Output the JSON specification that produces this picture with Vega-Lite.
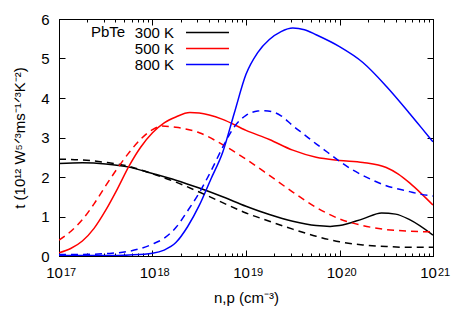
{
  "$schema": "https://vega.github.io/schema/vega-lite/v6.json",
  "width": 374,
  "height": 237,
  "autosize": "none",
  "padding": {"left": 59, "top": 19, "right": 30, "bottom": 68},
  "background": "white",
  "config": {
    "font": "Liberation Sans",
    "view": {"stroke": "#000000", "strokeWidth": 1},
    "axis": {
      "grid": false,
      "domainColor": "#000000",
      "tickColor": "#000000",
      "labelColor": "#000000",
      "titleColor": "#000000",
      "labelFont": "Liberation Sans",
      "titleFont": "Liberation Sans",
      "labelFontSize": 15,
      "titleFontSize": 15,
      "titleFontWeight": "normal"
    },
    "legend": {
      "labelFont": "Liberation Sans",
      "titleFont": "Liberation Sans",
      "labelFontSize": 15,
      "titleFontSize": 15,
      "titleFontWeight": "normal",
      "labelColor": "#000000",
      "titleColor": "#000000"
    }
  },
  "data": {
    "values": [
      {"n": 1e17, "t": 2.34, "T": "300 K", "s": "solid"},
      {"n": 1.778e17, "t": 2.36, "T": "300 K", "s": "solid"},
      {"n": 3.162e17, "t": 2.33, "T": "300 K", "s": "solid"},
      {"n": 5.623e17, "t": 2.25, "T": "300 K", "s": "solid"},
      {"n": 1e18, "t": 2.09, "T": "300 K", "s": "solid"},
      {"n": 1.778e18, "t": 1.92, "T": "300 K", "s": "solid"},
      {"n": 3.162e18, "t": 1.72, "T": "300 K", "s": "solid"},
      {"n": 5.623e18, "t": 1.5, "T": "300 K", "s": "solid"},
      {"n": 1e19, "t": 1.26, "T": "300 K", "s": "solid"},
      {"n": 1.778e19, "t": 1.05, "T": "300 K", "s": "solid"},
      {"n": 3.162e19, "t": 0.88, "T": "300 K", "s": "solid"},
      {"n": 5.623e19, "t": 0.77, "T": "300 K", "s": "solid"},
      {"n": 7.943e19, "t": 0.75, "T": "300 K", "s": "solid"},
      {"n": 1e20, "t": 0.77, "T": "300 K", "s": "solid"},
      {"n": 1.778e20, "t": 0.94, "T": "300 K", "s": "solid"},
      {"n": 2.818e20, "t": 1.09, "T": "300 K", "s": "solid"},
      {"n": 3.981e20, "t": 1.06, "T": "300 K", "s": "solid"},
      {"n": 5.623e20, "t": 0.92, "T": "300 K", "s": "solid"},
      {"n": 1e21, "t": 0.53, "T": "300 K", "s": "solid"},

      {"n": 1e17, "t": 2.45, "T": "300 K", "s": "dashed"},
      {"n": 1.778e17, "t": 2.43, "T": "300 K", "s": "dashed"},
      {"n": 3.162e17, "t": 2.37, "T": "300 K", "s": "dashed"},
      {"n": 5.623e17, "t": 2.27, "T": "300 K", "s": "dashed"},
      {"n": 1e18, "t": 2.08, "T": "300 K", "s": "dashed"},
      {"n": 1.778e18, "t": 1.87, "T": "300 K", "s": "dashed"},
      {"n": 3.162e18, "t": 1.62, "T": "300 K", "s": "dashed"},
      {"n": 5.623e18, "t": 1.35, "T": "300 K", "s": "dashed"},
      {"n": 1e19, "t": 1.09, "T": "300 K", "s": "dashed"},
      {"n": 1.778e19, "t": 0.88, "T": "300 K", "s": "dashed"},
      {"n": 3.162e19, "t": 0.68, "T": "300 K", "s": "dashed"},
      {"n": 5.623e19, "t": 0.5, "T": "300 K", "s": "dashed"},
      {"n": 1e20, "t": 0.36, "T": "300 K", "s": "dashed"},
      {"n": 1.778e20, "t": 0.28, "T": "300 K", "s": "dashed"},
      {"n": 3.162e20, "t": 0.24, "T": "300 K", "s": "dashed"},
      {"n": 5.623e20, "t": 0.22, "T": "300 K", "s": "dashed"},
      {"n": 1e21, "t": 0.22, "T": "300 K", "s": "dashed"},

      {"n": 1e17, "t": 0.08, "T": "500 K", "s": "solid"},
      {"n": 1.3335e17, "t": 0.19, "T": "500 K", "s": "solid"},
      {"n": 1.778e17, "t": 0.38, "T": "500 K", "s": "solid"},
      {"n": 2.371e17, "t": 0.7, "T": "500 K", "s": "solid"},
      {"n": 3.162e17, "t": 1.16, "T": "500 K", "s": "solid"},
      {"n": 4.217e17, "t": 1.7, "T": "500 K", "s": "solid"},
      {"n": 5.623e17, "t": 2.28, "T": "500 K", "s": "solid"},
      {"n": 7.499e17, "t": 2.76, "T": "500 K", "s": "solid"},
      {"n": 1e18, "t": 3.12, "T": "500 K", "s": "solid"},
      {"n": 1.3335e18, "t": 3.37, "T": "500 K", "s": "solid"},
      {"n": 1.778e18, "t": 3.52, "T": "500 K", "s": "solid"},
      {"n": 2.512e18, "t": 3.63, "T": "500 K", "s": "solid"},
      {"n": 3.162e18, "t": 3.62, "T": "500 K", "s": "solid"},
      {"n": 5.623e18, "t": 3.46, "T": "500 K", "s": "solid"},
      {"n": 1e19, "t": 3.18, "T": "500 K", "s": "solid"},
      {"n": 1.778e19, "t": 2.95, "T": "500 K", "s": "solid"},
      {"n": 3.162e19, "t": 2.68, "T": "500 K", "s": "solid"},
      {"n": 5.623e19, "t": 2.5, "T": "500 K", "s": "solid"},
      {"n": 1e20, "t": 2.42, "T": "500 K", "s": "solid"},
      {"n": 1.778e20, "t": 2.37, "T": "500 K", "s": "solid"},
      {"n": 3.162e20, "t": 2.24, "T": "500 K", "s": "solid"},
      {"n": 4.217e20, "t": 2.08, "T": "500 K", "s": "solid"},
      {"n": 5.623e20, "t": 1.85, "T": "500 K", "s": "solid"},
      {"n": 7.499e20, "t": 1.58, "T": "500 K", "s": "solid"},
      {"n": 1e21, "t": 1.29, "T": "500 K", "s": "solid"},

      {"n": 1e17, "t": 0.4, "T": "500 K", "s": "dashed"},
      {"n": 1.3335e17, "t": 0.62, "T": "500 K", "s": "dashed"},
      {"n": 1.778e17, "t": 0.92, "T": "500 K", "s": "dashed"},
      {"n": 2.371e17, "t": 1.32, "T": "500 K", "s": "dashed"},
      {"n": 3.162e17, "t": 1.78, "T": "500 K", "s": "dashed"},
      {"n": 4.217e17, "t": 2.22, "T": "500 K", "s": "dashed"},
      {"n": 5.623e17, "t": 2.62, "T": "500 K", "s": "dashed"},
      {"n": 7.499e17, "t": 2.96, "T": "500 K", "s": "dashed"},
      {"n": 1e18, "t": 3.2, "T": "500 K", "s": "dashed"},
      {"n": 1.259e18, "t": 3.29, "T": "500 K", "s": "dashed"},
      {"n": 1.778e18, "t": 3.26, "T": "500 K", "s": "dashed"},
      {"n": 3.162e18, "t": 3.12, "T": "500 K", "s": "dashed"},
      {"n": 5.623e18, "t": 2.82, "T": "500 K", "s": "dashed"},
      {"n": 1e19, "t": 2.45, "T": "500 K", "s": "dashed"},
      {"n": 1.778e19, "t": 2.04, "T": "500 K", "s": "dashed"},
      {"n": 3.162e19, "t": 1.62, "T": "500 K", "s": "dashed"},
      {"n": 5.623e19, "t": 1.23, "T": "500 K", "s": "dashed"},
      {"n": 1e20, "t": 0.94, "T": "500 K", "s": "dashed"},
      {"n": 1.778e20, "t": 0.77, "T": "500 K", "s": "dashed"},
      {"n": 3.162e20, "t": 0.67, "T": "500 K", "s": "dashed"},
      {"n": 5.623e20, "t": 0.63, "T": "500 K", "s": "dashed"},
      {"n": 1e21, "t": 0.61, "T": "500 K", "s": "dashed"},

      {"n": 1e17, "t": 0.01, "T": "800 K", "s": "solid"},
      {"n": 3.162e17, "t": 0.01, "T": "800 K", "s": "solid"},
      {"n": 5.623e17, "t": 0.025, "T": "800 K", "s": "solid"},
      {"n": 1e18, "t": 0.07, "T": "800 K", "s": "solid"},
      {"n": 1.3335e18, "t": 0.15, "T": "800 K", "s": "solid"},
      {"n": 1.778e18, "t": 0.34, "T": "800 K", "s": "solid"},
      {"n": 2.371e18, "t": 0.74, "T": "800 K", "s": "solid"},
      {"n": 3.162e18, "t": 1.28, "T": "800 K", "s": "solid"},
      {"n": 4.217e18, "t": 1.95, "T": "800 K", "s": "solid"},
      {"n": 5.623e18, "t": 2.62, "T": "800 K", "s": "solid"},
      {"n": 7.499e18, "t": 3.62, "T": "800 K", "s": "solid"},
      {"n": 1e19, "t": 4.6, "T": "800 K", "s": "solid"},
      {"n": 1.3335e19, "t": 5.15, "T": "800 K", "s": "solid"},
      {"n": 1.778e19, "t": 5.48, "T": "800 K", "s": "solid"},
      {"n": 2.371e19, "t": 5.68, "T": "800 K", "s": "solid"},
      {"n": 3.162e19, "t": 5.77, "T": "800 K", "s": "solid"},
      {"n": 4.217e19, "t": 5.73, "T": "800 K", "s": "solid"},
      {"n": 5.623e19, "t": 5.6, "T": "800 K", "s": "solid"},
      {"n": 1e20, "t": 5.3, "T": "800 K", "s": "solid"},
      {"n": 1.778e20, "t": 4.9, "T": "800 K", "s": "solid"},
      {"n": 3.162e20, "t": 4.3, "T": "800 K", "s": "solid"},
      {"n": 5.623e20, "t": 3.61, "T": "800 K", "s": "solid"},
      {"n": 7.499e20, "t": 3.25, "T": "800 K", "s": "solid"},
      {"n": 1e21, "t": 2.89, "T": "800 K", "s": "solid"},

      {"n": 1e17, "t": 0.04, "T": "800 K", "s": "dashed"},
      {"n": 1.778e17, "t": 0.04, "T": "800 K", "s": "dashed"},
      {"n": 3.162e17, "t": 0.06, "T": "800 K", "s": "dashed"},
      {"n": 5.623e17, "t": 0.12, "T": "800 K", "s": "dashed"},
      {"n": 1e18, "t": 0.3, "T": "800 K", "s": "dashed"},
      {"n": 1.3335e18, "t": 0.45, "T": "800 K", "s": "dashed"},
      {"n": 1.778e18, "t": 0.72, "T": "800 K", "s": "dashed"},
      {"n": 2.371e18, "t": 1.14, "T": "800 K", "s": "dashed"},
      {"n": 3.162e18, "t": 1.6, "T": "800 K", "s": "dashed"},
      {"n": 4.217e18, "t": 2.15, "T": "800 K", "s": "dashed"},
      {"n": 5.623e18, "t": 2.75, "T": "800 K", "s": "dashed"},
      {"n": 7.499e18, "t": 3.27, "T": "800 K", "s": "dashed"},
      {"n": 1e19, "t": 3.56, "T": "800 K", "s": "dashed"},
      {"n": 1.3335e19, "t": 3.67, "T": "800 K", "s": "dashed"},
      {"n": 1.585e19, "t": 3.68, "T": "800 K", "s": "dashed"},
      {"n": 2.371e19, "t": 3.55, "T": "800 K", "s": "dashed"},
      {"n": 3.162e19, "t": 3.3, "T": "800 K", "s": "dashed"},
      {"n": 4.217e19, "t": 3.07, "T": "800 K", "s": "dashed"},
      {"n": 5.623e19, "t": 2.84, "T": "800 K", "s": "dashed"},
      {"n": 7.499e19, "t": 2.62, "T": "800 K", "s": "dashed"},
      {"n": 1e20, "t": 2.4, "T": "800 K", "s": "dashed"},
      {"n": 1.3335e20, "t": 2.2, "T": "800 K", "s": "dashed"},
      {"n": 1.778e20, "t": 2.04, "T": "800 K", "s": "dashed"},
      {"n": 2.371e20, "t": 1.9, "T": "800 K", "s": "dashed"},
      {"n": 3.162e20, "t": 1.78, "T": "800 K", "s": "dashed"},
      {"n": 5.623e20, "t": 1.63, "T": "800 K", "s": "dashed"},
      {"n": 7.499e20, "t": 1.56, "T": "800 K", "s": "dashed"},
      {"n": 1e21, "t": 1.52, "T": "800 K", "s": "dashed"}
    ]
  },
  "layer": [
    {
      "transform": [{"filter": "datum.s == 'solid'"}],
      "mark": {"type": "line", "strokeWidth": 1.5, "interpolate": "monotone", "clip": true},
      "encoding": {
        "x": {
          "field": "n", "type": "quantitative",
          "scale": {"type": "log", "domain": [1e17, 1e21], "nice": false},
          "axis": {
            "orient": "bottom",
            "values": [1e17,2e17,3e17,4e17,5e17,6e17,7e17,8e17,9e17,1e18,2e18,3e18,4e18,5e18,6e18,7e18,8e18,9e18,1e19,2e19,3e19,4e19,5e19,6e19,7e19,8e19,9e19,1e20,2e20,3e20,4e20,5e20,6e20,7e20,8e20,9e20,1e21],
            "labelExpr": "datum.value == 1e17 || datum.value == 1e18 || datum.value == 1e19 || datum.value == 1e20 || datum.value == 1e21 ? '10' : ''",
            "labelOverlap": false,
            "labelFlush": false,
            "labelOffset": -5,
            "tickSize": {"condition": {"test": "datum.value == 1e17 || datum.value == 1e18 || datum.value == 1e19 || datum.value == 1e20 || datum.value == 1e21", "value": -6}, "value": -3},
            "labelPadding": 15,
            "title": "n,p (cm⁻³)",
            "titlePadding": 7
          }
        },
        "y": {
          "field": "t", "type": "quantitative",
          "scale": {"domain": [0, 6], "nice": false, "zero": false},
          "axis": {
            "orient": "left",
            "values": [0, 1, 2, 3, 4, 5, 6],
            "tickSize": -6,
            "labelPadding": 16,
            "title": "t (10¹² W⁵ᐟ³ms⁻¹ᐟ³K⁻²)",
            "titlePadding": 13
          }
        },
        "color": {
          "field": "T", "type": "nominal",
          "scale": {"domain": ["300 K", "500 K", "800 K"], "range": ["#000000", "#ff0000", "#0000ff"]},
          "legend": {
            "title": "PbTe",
            "orient": "none",
            "legendX": 32,
            "legendY": 5.5,
            "padding": 0,
            "titleOrient": "left",
            "titleAnchor": "start",
            "titlePadding": 2,
            "titleBaseline": "top",
            "labelAlign": "right",
            "labelOffset": -41.5,
            "symbolOffset": 71.5,
            "symbolType": "M-3,0H3",
            "symbolSize": 205,
            "symbolStrokeWidth": 1.5,
            "rowPadding": 0
          }
        }
      }
    },
    {
      "transform": [{"filter": "datum.s == 'dashed' && datum.T != '800 K'"}],
      "mark": {"type": "line", "strokeWidth": 1.5, "strokeDash": [7, 5], "interpolate": "monotone", "clip": true},
      "encoding": {
        "x": {
          "field": "n", "type": "quantitative",
          "scale": {"type": "log", "domain": [1e17, 1e21], "nice": false},
          "axis": {
            "orient": "top",
            "values": [1e17,2e17,3e17,4e17,5e17,6e17,7e17,8e17,9e17,1e18,2e18,3e18,4e18,5e18,6e18,7e18,8e18,9e18,1e19,2e19,3e19,4e19,5e19,6e19,7e19,8e19,9e19,1e20,2e20,3e20,4e20,5e20,6e20,7e20,8e20,9e20,1e21],
            "labels": false,
            "title": null,
            "tickSize": {"condition": {"test": "datum.value == 1e17 || datum.value == 1e18 || datum.value == 1e19 || datum.value == 1e20 || datum.value == 1e21", "value": -6}, "value": -3}
          }
        },
        "y": {
          "field": "t", "type": "quantitative",
          "scale": {"domain": [0, 6], "nice": false, "zero": false},
          "axis": {
            "orient": "right",
            "values": [0, 1, 2, 3, 4, 5, 6],
            "labels": false,
            "title": null,
            "tickSize": -6
          }
        },
        "color": {"field": "T", "type": "nominal"}
      }
    },
    {
      "transform": [{"filter": "datum.s == 'dashed' && datum.T == '800 K'"}],
      "mark": {"type": "line", "strokeWidth": 1.5, "strokeDash": [7, 5], "interpolate": "monotone", "clip": true},
      "encoding": {
        "x": {
          "field": "n", "type": "quantitative",
          "scale": {"type": "log", "domain": [1e17, 1e21], "nice": false},
          "axis": {
            "orient": "bottom",
            "values": [1e17, 1e18, 1e19, 1e20, 1e21],
            "labelExpr": "format(log(datum.value) / LN10, '.0f')",
            "labelFontSize": 11,
            "labelOffset": 10.5,
            "labelPadding": 10,
            "labelOverlap": false,
            "labelFlush": false,
            "ticks": false,
            "tickSize": 0,
            "domain": false,
            "title": null
          }
        },
        "y": {
          "field": "t", "type": "quantitative",
          "scale": {"domain": [0, 6], "nice": false, "zero": false},
          "axis": null
        },
        "color": {"field": "T", "type": "nominal"}
      }
    }
  ],
  "resolve": {"axis": {"x": "independent", "y": "independent"}}
}
